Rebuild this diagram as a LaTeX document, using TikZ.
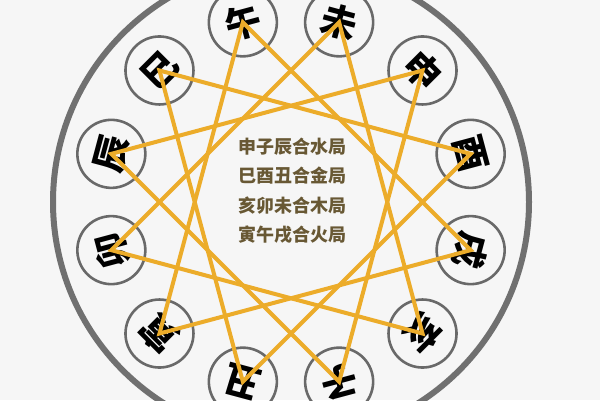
\documentclass[tikz,border=0pt]{standalone}
\usepackage{fontspec}
\newfontfamily\cjk{Noto Sans CJK SC}
\definecolor{bgc}{RGB}{246,246,246}
\definecolor{ringc}{RGB}{112,112,112}
\definecolor{smallc}{RGB}{105,105,105}
\definecolor{linec}{RGB}{236,172,42}
\definecolor{txtc}{RGB}{104,88,52}
\begin{document}
\begin{tikzpicture}[x=1pt,y=1pt,
  branch/.style={circle,draw=smallc,line width=2.6pt,minimum size=68pt,inner sep=0pt,
    font=\cjk\bfseries\fontsize{36}{36}\selectfont,text=black},
  starline/.style={draw=linec,line width=4pt,line join=miter},
  centertext/.style={align=center,text=txtc,font=\cjk\bfseries\fontsize{18}{29.5}\selectfont}]
\useasboundingbox (0,0) rectangle (600,400);
\fill[bgc] (0,0) rectangle (600,400);
\begin{scope}[shift={(291,198)}]
\coordinate (c0) at (0,0);
\draw[ringc,line width=6pt] (c0) circle (238);
\node[branch,rotate=-165] (zi)   at (-75:186) {子};
\node[branch,rotate=165]  (chou) at (255:186) {丑};
\node[branch,rotate=135]  (yin)  at (225:186) {寅};
\node[branch,rotate=105]  (mao)  at (195:186) {卯};
\node[branch,rotate=75]   (chen) at (165:186) {辰};
\node[branch,rotate=45]   (si)   at (135:186) {巳};
\node[branch,rotate=15]   (wu)   at (105:186) {午};
\node[branch,rotate=-15]  (wei)  at (75:186) {未};
\node[branch,rotate=-45]  (shen) at (45:186) {申};
\node[branch,rotate=-75]  (you)  at (15:186) {酉};
\node[branch,rotate=-105] (xu)   at (-15:186) {戌};
\node[branch,rotate=-135] (hai)  at (-45:186) {亥};
\draw[starline] (shen.center) -- (zi.center) -- (chen.center) -- cycle;
\draw[starline] (si.center) -- (you.center) -- (chou.center) -- cycle;
\draw[starline] (hai.center) -- (mao.center) -- (wei.center) -- cycle;
\draw[starline] (yin.center) -- (wu.center) -- (xu.center) -- cycle;
\node[centertext] (info) at (1,11) {申子辰合水局\\巳酉丑合金局\\亥卯未合木局\\寅午戌合火局};
\end{scope}
\end{tikzpicture}
\end{document}
